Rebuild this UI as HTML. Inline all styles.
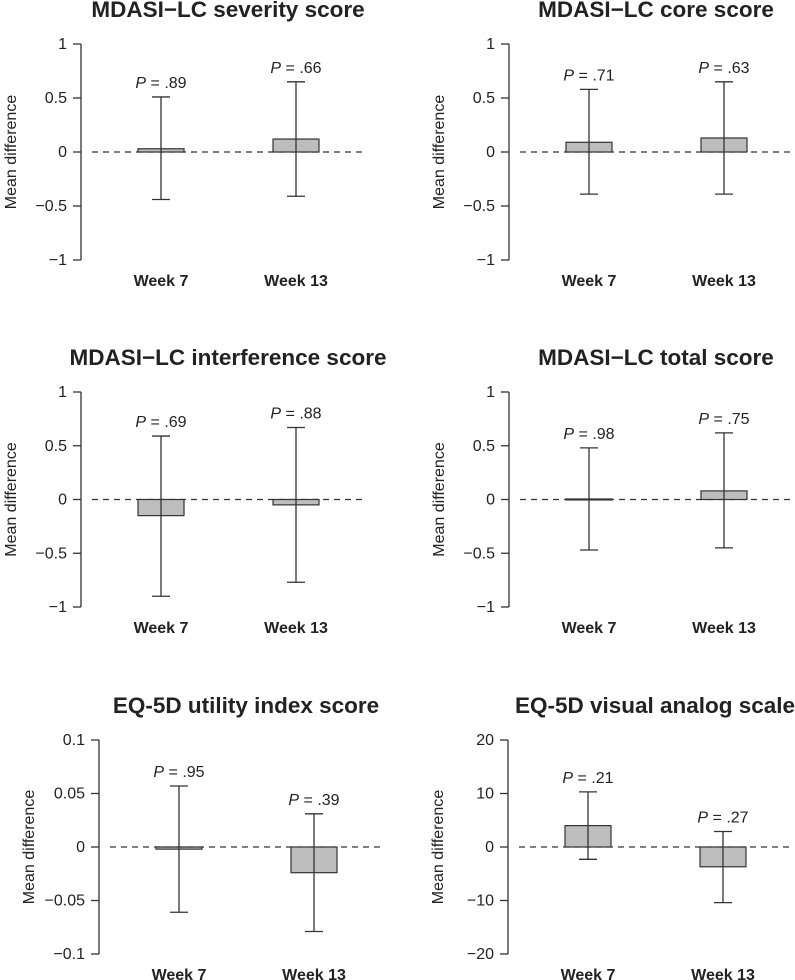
<!DOCTYPE html>
<html><head><meta charset="utf-8"><style>
body{margin:0;background:#fff}
svg{display:block;font-family:"Liberation Sans",Arial,sans-serif}
</style></head><body>
<svg id="c" width="795" height="980" viewBox="0 0 795 980"></svg>
<script>
const titles=["MDASI\u2212LC severity score","MDASI\u2212LC core score","MDASI\u2212LC interference score","MDASI\u2212LC total score","EQ-5D utility index score","EQ-5D visual analog scale"];
const categories=["Week 7","Week 13"];
const means=[[0.03,0.12],[0.09,0.13],[-0.15,-0.05],[0.005,0.08],[-0.002,-0.024],[4.0,-3.7]];
const lower=[[-0.44,-0.41],[-0.39,-0.39],[-0.90,-0.77],[-0.47,-0.45],[-0.061,-0.079],[-2.3,-10.4]];
const upper=[[0.51,0.65],[0.58,0.65],[0.59,0.67],[0.48,0.62],[0.057,0.031],[10.3,2.9]];
const pvals=[[".89",".66"],[".71",".63"],[".69",".88"],[".98",".75"],[".95",".39"],[".21",".27"]];
const yTicks=[[-1,-0.5,0,0.5,1],[-1,-0.5,0,0.5,1],[-1,-0.5,0,0.5,1],[-1,-0.5,0,0.5,1],[-0.1,-0.05,0,0.05,0.1],[-20,-10,0,10,20]];
const tickLabels=[["\u22121","\u22120.5","0","0.5","1"],["\u22121","\u22120.5","0","0.5","1"],["\u22121","\u22120.5","0","0.5","1"],["\u22121","\u22120.5","0","0.5","1"],["\u22120.1","\u22120.05","0","0.05","0.1"],["\u221220","\u221210","0","10","20"]];
const NS="http://www.w3.org/2000/svg";
const svg=document.getElementById('c');
function mk(tag,attrs,parent,text){const e=document.createElementNS(NS,tag);for(const k in attrs)e.setAttribute(k,attrs[k]);if(text!==undefined)e.textContent=text;(parent||svg).appendChild(e);return e;}
const axisX=[81,509,81,509,99,508];
const topY=[44,44,392,392,740,740];
const botY=[260,260,607,607,954,954];
for(let p=0;p<6;p++){
  const g=mk('g',{});
  
  
  const ax=axisX[p],t=yTicks[p],lo=t[0],hi=t[t.length-1];
  const y=v=>botY[p]-(v-lo)/(hi-lo)*(botY[p]-topY[p]);
  const tt=mk('text',{x:ax+147,y:topY[p]-27,'text-anchor':'middle','font-size':'22.5','font-weight':'bold',fill:'#222'},g,titles[p]);
  
  
  const yl=mk('text',{transform:`translate(${ax-65},${y(0)}) rotate(-90)`,'text-anchor':'middle','font-size':'16',fill:'#222'},g,'Mean difference');
  
  
  const axl=mk('line',{x1:ax,x2:ax,y1:y(hi),y2:y(lo),stroke:'#333','stroke-width':1.3},g);
  
  
  t.forEach((v,i)=>{
    mk('line',{x1:ax-8,x2:ax,y1:y(v),y2:y(v),stroke:'#333','stroke-width':1.3},g);
    const tl=mk('text',{x:ax-14,y:y(v)+5,'text-anchor':'end','font-size':'16',fill:'#222'},g,tickLabels[p][i]);
    
    
  });
  const zl=mk('line',{x1:ax+11,x2:ax+286,y1:y(0),y2:y(0),stroke:'#333','stroke-width':1.2,'stroke-dasharray':'6,5'},g);
  
  
  const cx=[ax+80,ax+215];
  categories.forEach((c,i)=>{
    const m=means[p][i];
    const r=mk('rect',{x:cx[i]-23,width:46,y:Math.min(y(m),y(0)),height:Math.max(1,Math.abs(y(m)-y(0))),fill:'#bdbdbd',stroke:'#333','stroke-width':1.2},g);
    
    
    const eb=mk('path',{d:`M${cx[i]},${y(upper[p][i])}V${y(lower[p][i])}M${cx[i]-9},${y(upper[p][i])}H${cx[i]+9}M${cx[i]-9},${y(lower[p][i])}H${cx[i]+9}`,stroke:'#333','stroke-width':1.3,fill:'none'},g);
    
    
    const pt=mk('text',{x:cx[i],y:y(upper[p][i])-9,'text-anchor':'middle','font-size':'16',fill:'#222'},g);
    
    
    mk('tspan',{'font-style':'italic'},pt,'P');
    mk('tspan',{},pt,' = '+pvals[p][i]);
    const xl=mk('text',{x:cx[i],y:botY[p]+26,'text-anchor':'middle','font-size':'16','font-weight':'bold',fill:'#222'},g,c);
    
    
  });
}
</script>
</body></html>
